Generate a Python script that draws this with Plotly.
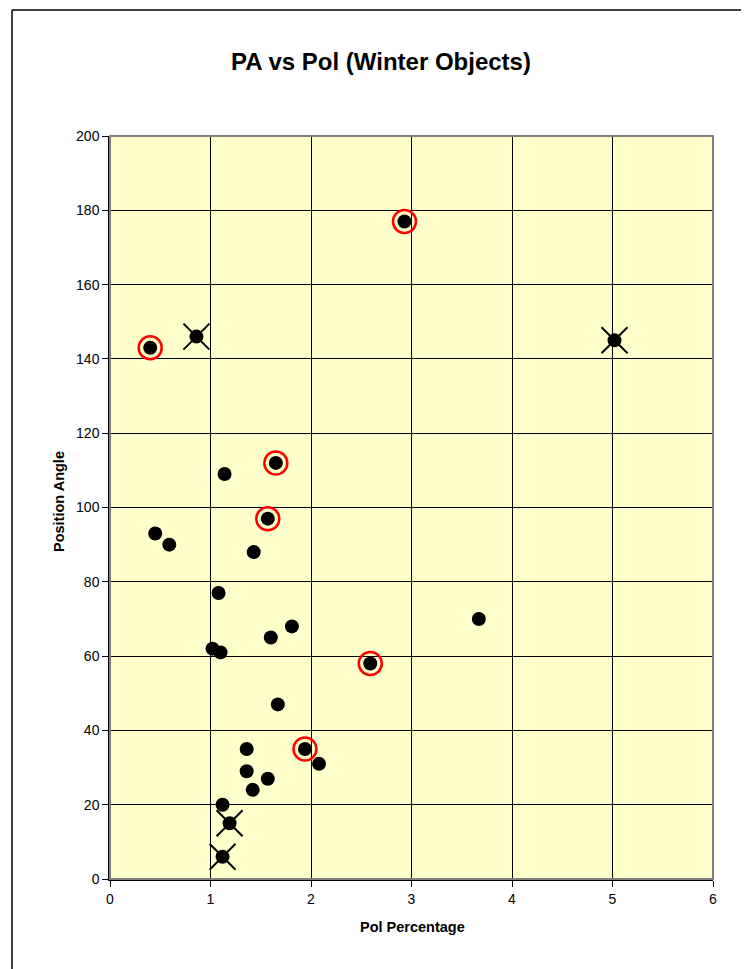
import plotly.graph_objects as go

# Plain observations
pol_plain = [1.14, 0.45, 0.59, 1.43, 1.08, 1.81, 1.60, 1.02, 1.10, 1.67, 1.36, 2.08, 1.36, 1.57, 1.42, 1.12, 3.67]
pa_plain = [109, 93, 90, 88, 77, 68, 65, 62, 61, 47, 35, 31, 29, 27, 24, 20, 70]

# Circled (red ring) observations
pol_circled = [0.40, 1.65, 1.57, 2.59, 1.94, 2.93]
pa_circled = [143, 112, 97, 58, 35, 177]

# Crossed observations
pol_crossed = [0.86, 1.19, 1.12, 5.02]
pa_crossed = [146, 15, 6, 145]

x_ticks = [0, 1, 2, 3, 4, 5, 6]
y_ticks = [0, 20, 40, 60, 80, 100, 120, 140, 160, 180, 200]

FONT = "Liberation Sans, Arial, sans-serif"

fig = go.Figure()
fig.add_trace(go.Scatter(x=pol_circled, y=pa_circled, mode="markers",
                         marker=dict(symbol="circle-open", size=23, color="#FF0000",
                                     line=dict(color="#FF0000", width=2.5)),
                         hoverinfo="skip", showlegend=False))
fig.add_trace(go.Scatter(x=pol_crossed, y=pa_crossed, mode="markers",
                         marker=dict(symbol="x-thin-open", size=26, color="#000000",
                                     line=dict(color="#000000", width=2)),
                         showlegend=False))
fig.add_trace(go.Scatter(x=pol_plain + pol_circled + pol_crossed,
                         y=pa_plain + pa_circled + pa_crossed, mode="markers",
                         marker=dict(symbol="circle", size=14, color="#000000",
                                     line=dict(width=0)),
                         showlegend=False))

# page has an 8px body margin, so figure coords = page coords - 8
OFF = 8
W, H = 749, 969
L, R, T, B = 110 - OFF, 713 - OFF, 136 - OFF, 879 - OFF
pw, ph = R - L, B - T

def px(xp):
    return (xp - OFF - L) / pw

def py(yp):
    return (B - (yp - OFF)) / ph

fig.update_layout(
    width=W, height=H,
    margin=dict(l=L, r=W - R, t=T, b=H - B),
    paper_bgcolor="white",
    plot_bgcolor="#FFFFCC",
    font=dict(family=FONT, size=14, color="black"),
    showlegend=False,
    title=dict(text="<b>PA vs Pol (Winter Objects)</b>", xref="paper", x=px(381), xanchor="center",
               y=1 - (62 - OFF) / H, yanchor="middle", yref="container",
               font=dict(family=FONT, size=24, color="black")),
    xaxis=dict(range=[0, 6], tickvals=x_ticks, showgrid=True, gridcolor="#000000", gridwidth=1,
               zeroline=False, showline=True, linecolor="#000000", linewidth=1.5,
               ticks="outside", ticklen=6, tickcolor="#000000", tickfont=dict(size=14)),
    yaxis=dict(range=[0, 200], tickvals=y_ticks, showgrid=True, gridcolor="#000000", gridwidth=1,
               zeroline=False, showline=True, linecolor="#000000", linewidth=1.5,
               ticks="outside", ticklen=6, tickcolor="#000000", tickfont=dict(size=14)),
    annotations=[
        dict(text="<b>Pol Percentage</b>", xref="paper", yref="paper", x=px(412), y=py(927),
             xanchor="center", yanchor="middle", showarrow=False, font=dict(size=14.5)),
        dict(text="<b>Position Angle</b>", xref="paper", yref="paper", x=px(59), y=py(502),
             xanchor="center", yanchor="middle", showarrow=False, textangle=-90,
             font=dict(size=14.5)),
    ],
    shapes=[
        dict(type="rect", xref="paper", yref="paper", x0=0, x1=1, y0=0, y1=1,
             line=dict(color="#808080", width=2), layer="above"),
        dict(type="line", xref="paper", yref="paper", x0=px(12), x1=px(800), y0=py(10), y1=py(10),
             line=dict(color="#000000", width=1.5), layer="above"),
        dict(type="line", xref="paper", yref="paper", x0=px(12), x1=px(12), y0=py(1020), y1=py(10),
             line=dict(color="#000000", width=1.5), layer="above"),
    ],
)

fig.write_html("out.html")
